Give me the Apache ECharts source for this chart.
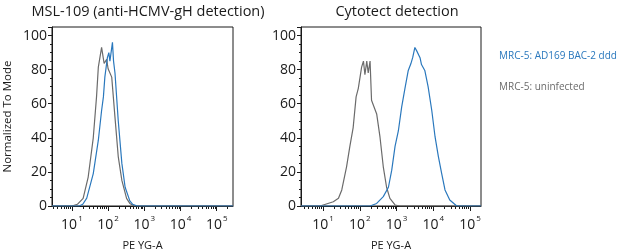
<!DOCTYPE html>
<html>
<head>
<meta charset="utf-8">
<style>
  html, body { margin: 0; width: 100%; height: 100%; background: #fff; }
  #chart-panel { width: 617px; height: 251px; }
</style>
<script src="https://cdnjs.cloudflare.com/ajax/libs/echarts/6.0.0/echarts.min.js"></script>
</head>
<body>
<div id="chart-panel"></div>
<script type="text/javascript">
  // x values are log10 of the PE YG-A intensity, y is % of mode
  var leftGrayX  = [0.45, 1.0, 1.15, 1.31, 1.45, 1.59, 1.68, 1.73, 1.82, 1.89, 1.96, 2.0, 2.1, 2.19, 2.28, 2.38, 2.51, 2.6, 2.72, 5.45]
  var leftGrayY  = [0, 0, 1, 4.5, 17, 40, 64, 81.5, 93, 83.6, 86, 80.5, 75.6, 52, 29, 15, 4.5, 1.5, 0, 0]
  var leftBlueX  = [0.45, 1.2, 1.3, 1.41, 1.59, 1.73, 1.82, 1.87, 1.91, 1.98, 2.02, 2.05, 2.12, 2.15, 2.19, 2.28, 2.38, 2.47, 2.6, 2.68, 2.8, 5.45]
  var leftBlueY  = [0, 0, 1, 4.6, 19, 38.6, 56, 64, 75.6, 87, 90, 85, 96, 85, 78, 50, 25, 11, 3, 1, 0, 0]
  var rightGrayX = [0.4, 0.92, 1.28, 1.42, 1.51, 1.64, 1.73, 1.82, 1.9, 1.96, 1.99, 2.05, 2.1, 2.14, 2.19, 2.23, 2.28, 2.32, 2.37, 2.46, 2.55, 2.64, 2.73, 2.82, 2.96, 3.1, 5.3]
  var rightGrayY = [0, 0, 2.5, 4.5, 9.4, 23, 35, 46, 64, 69, 68, 81.5, 85, 77, 85, 78, 85, 62, 61, 54, 40.5, 23, 11, 4.5, 0.6, 0, 0]
  var rightBlueX = [0.4, 2.28, 2.46, 2.64, 2.78, 2.87, 2.96, 3.05, 3.14, 3.23, 3.32, 3.39, 3.44, 3.5, 3.55, 3.59, 3.64, 3.68, 3.77, 3.86, 3.96, 4.05, 4.14, 4.23, 4.32, 4.45, 4.64, 5.3]
  var rightBlueY = [0, 0, 1.5, 5.5, 11, 21, 35, 44, 58, 69, 79.5, 83.4, 87, 93, 91, 92, 87, 83, 79.5, 70, 56, 40.5, 29, 19, 9.4, 3.5, 0, 0]
  var decades = [1, 2, 3, 4, 5]
  var titles = ['MSL-109 (anti-HCMV-gH detection)', 'Cytotect detection']
  var seriesNames = ['MRC-5: AD169 BAC-2 ddd', 'MRC-5: uninfected']

  var blue = '#2a78bd'
  var gray = '#6b6b6b'
  var ink = '#1a1a1a'
  var font = 'Open Sans'

  var minorLog = []
  for (var d = 0; d <= 5; d++) {
    for (var k = 2; k <= 9; k++) minorLog.push(d + Math.log10(k))
  }

  function pairs(xs, ys) {
    return xs.map(function (x, i) { return [x, ys[i]] })
  }

  function xAxes(grid, min, max) {
    return [{
      gridIndex: grid, type: 'value', min: min, max: max,
      position: 'bottom',
      splitLine: {show: false},
      axisLine: {lineStyle: {color: ink, width: 1}},
      axisTick: {customValues: decades, length: 5, lineStyle: {color: ink}},
      axisLabel: {
        customValues: decades, margin: 9, color: ink, fontSize: 14, fontFamily: font,
        formatter: function (v) { return '{b|10}{s|' + v + '}' },
        rich: {
          b: {fontSize: 14, fontFamily: font, color: ink, verticalAlign: 'bottom'},
          s: {fontSize: 8, fontFamily: font, color: ink, verticalAlign: 'bottom', padding: [0, 0, 9, 1]}
        }
      },
      name: 'PE YG-A', nameLocation: 'middle', nameGap: 34,
      nameTextStyle: {fontSize: 11, fontFamily: font, color: ink}
    }, {
      gridIndex: grid, type: 'value', min: min, max: max,
      position: 'bottom',
      splitLine: {show: false},
      axisLine: {show: false},
      axisTick: {customValues: minorLog, length: 3, lineStyle: {color: ink}},
      axisLabel: {show: false}
    }]
  }

  function yAxis(grid, withName) {
    return {
      gridIndex: grid, type: 'value', min: 0, max: 105, interval: 20,
      splitLine: {show: false},
      axisLine: {show: true, lineStyle: {color: ink}},
      axisTick: {show: true, length: 4, lineStyle: {color: ink}},
      minorTick: {show: true, splitNumber: 4, length: 2, lineStyle: {color: ink}},
      axisLabel: {
        margin: 5, fontSize: 14, fontFamily: font, color: ink,
        formatter: function (v) { return v > 100 ? '' : v }
      },
      name: withName ? 'Normalized To Mode' : '',
      nameLocation: 'middle', nameGap: 38,
      nameTextStyle: {fontSize: 11.5, fontFamily: font, color: ink}
    }
  }

  function line(name, color, x, y, xi, yi) {
    return {
      name: name, type: 'line', xAxisIndex: xi, yAxisIndex: yi,
      data: pairs(x, y), showSymbol: false,
      lineStyle: {color: color, width: 1.2}, itemStyle: {color: color}
    }
  }

  var myChart = echarts.init(document.getElementById('chart-panel'))

  var option = {
    animation: false,
    title: [
      {text: titles[0], left: 143, top: -1, textAlign: 'center',
       textStyle: {fontSize: 14.5, fontWeight: 'normal', fontFamily: font, color: ink}},
      {text: titles[1], left: 392, top: -1, textAlign: 'center',
       textStyle: {fontSize: 14.5, fontWeight: 'normal', fontFamily: font, color: ink}}
    ],
    legend: {
      orient: 'vertical', left: 494, top: 51, itemGap: 21, padding: 0,
      icon: 'none', itemWidth: 0, itemHeight: 10,
      textStyle: {fontSize: 10, fontFamily: font, padding: 0},
      data: [
        {name: seriesNames[0], textStyle: {color: blue}},
        {name: seriesNames[1], textStyle: {color: gray}}
      ]
    },
    grid: [
      {left: 52, width: 181, top: 27, bottom: 45, outerBoundsMode: 'none',
       show: true, borderColor: ink, borderWidth: 1},
      {left: 301, width: 180, top: 27, bottom: 45, outerBoundsMode: 'none',
       show: true, borderColor: ink, borderWidth: 1}
    ],
    xAxis: xAxes(0, 0.45, 5.45).concat(xAxes(1, 0.4, 5.3)),
    yAxis: [yAxis(0, true), yAxis(1, false)],
    series: [
      line(seriesNames[1], gray, leftGrayX, leftGrayY, 0, 0),
      line(seriesNames[0], blue, leftBlueX, leftBlueY, 0, 0),
      line(seriesNames[1], gray, rightGrayX, rightGrayY, 2, 1),
      line(seriesNames[0], blue, rightBlueX, rightBlueY, 2, 1)
    ]
  }

  myChart.setOption(option)
</script>
</body>
</html>
